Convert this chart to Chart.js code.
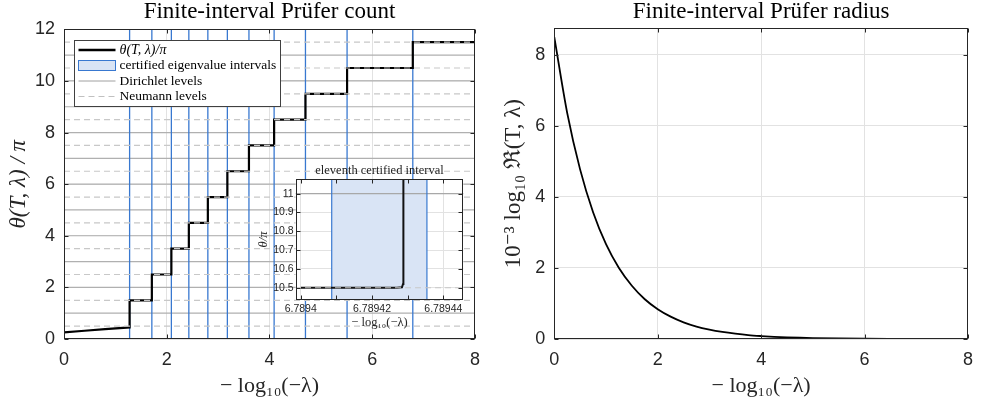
<!DOCTYPE html>
<html>
<head>
<meta charset="utf-8">
<script src="https://cdn.jsdelivr.net/npm/chart.js@4.4.1/dist/chart.umd.min.js"></script>
<style>
  html, body { margin: 0; padding: 0; background: #fff; }
  #wrap { position: relative; width: 983px; height: 404px; overflow: hidden; }
  canvas { position: absolute; }
  #countChart { left: 0; top: 0; }
  #insetChart { left: 240px; top: 158px; }
  #radiusChart { left: 490px; top: 0; }
</style>
</head>
<body>
<div id="wrap">
  <canvas id="countChart" width="490" height="404"></canvas>
  <canvas id="insetChart" width="235" height="180"></canvas>
  <canvas id="radiusChart" width="493" height="404"></canvas>
</div>
<script>
// ---- data ----
var xTicks = [0, 2, 4, 6, 8];
var countYTicks = [0, 2, 4, 6, 8, 10, 12];
var radiusYTicks = [0, 2, 4, 6, 8];

// left panel: Prufer count
var startX = [0, 0.4, 0.8, 1.277];
var startY = [0.26, 0.32, 0.38, 0.45];
var eigenX = [1.277, 1.71, 2.09, 2.43, 2.80, 3.18, 3.60, 4.09, 4.70, 5.51, 6.7894];
var stepLevels = [1.5, 2.5, 3.5, 4.5, 5.5, 6.5, 7.5, 8.5, 9.5, 10.5, 11.5];
var dirichletLevels = [1, 2, 3, 4, 5, 6, 7, 8, 9, 10, 11];
var neumannLevels = [0.5, 1.5, 2.5, 3.5, 4.5, 5.5, 6.5, 7.5, 8.5, 9.5, 10.5, 11.5];

// inset: eleventh certified interval
var insetXTicks = [6.7894, 6.78941, 6.78942, 6.78943, 6.78944];
var insetXLabels = ['6.7894', '', '6.78942', '', '6.78944'];
var insetYTicks = [10.5, 10.6, 10.7, 10.8, 10.9, 11];
var insetYLabels = ['10.5', '10.6', '10.7', '10.8', '10.9', '11'];
var insetInterval = [6.7894087, 6.7894354];
var insetCurveX = [6.7894, 6.789427, 6.7894284, 6.7894287, 6.7894288, 6.7894288];
var insetCurveY = [10.5, 10.5, 10.503, 10.52, 10.7, 11.2];

// right panel: Prufer radius
var radiusX = [0, 0.25, 0.5, 0.75, 1, 1.25, 1.5, 1.75, 2, 2.25, 2.5, 2.75, 3, 3.25, 3.5, 3.75, 4, 4.25, 4.5, 4.75, 5, 5.5, 6, 6.5, 7, 7.5, 8];
var radiusY = [8.5, 6.36, 4.77, 3.57, 2.67, 2.0, 1.5, 1.12, 0.84, 0.63, 0.47, 0.35, 0.265, 0.2, 0.15, 0.11, 0.083, 0.062, 0.047, 0.035, 0.026, 0.015, 0.008, 0.005, 0.003, 0.002, 0.001];

// ---- styles ----
var SERIF = "'Liberation Serif', 'DejaVu Serif', serif";
var SANS = "'Liberation Sans', Arial, sans-serif";
var AXIS = '#262626';
var GRID = '#e2e2e2';
var BLUE = '#3878d0';
var SHADE = '#d9e4f5';
var DIRICHLET = '#b0b0b0';
var NEUMANN = '#c8c8c8';

function hLines(levels, x0, x1) {
  var pts = [];
  levels.forEach(function (v) {
    pts.push({x: x0, y: v}, {x: x1, y: v}, {x: x1, y: null});
  });
  return pts;
}
function vLines(xs, y0, y1) {
  var pts = [];
  xs.forEach(function (x) {
    pts.push({x: x, y: y0}, {x: x, y: y1}, {x: x, y: null});
  });
  return pts;
}
function fixedTicks(list) {
  return function (scale) {
    scale.ticks = list.map(function (v) { return {value: v}; });
  };
}

// box round the axes plus MATLAB style inward ticks
var framePlugin = {
  id: 'frame',
  afterDraw: function (chart, args, opts) {
    var a = chart.chartArea, ctx = chart.ctx;
    var len = opts.tickLen || 4;
    var l = Math.round(a.left) + 0.5, r = Math.round(a.right) - 0.5;
    var t = Math.round(a.top) + 0.5, b = Math.round(a.bottom) - 0.5;
    ctx.save();
    ctx.strokeStyle = AXIS;
    ctx.lineWidth = 1;
    ctx.beginPath();
    chart.scales.x.ticks.forEach(function (tk) {
      var px = Math.round(chart.scales.x.getPixelForValue(tk.value)) + 0.5;
      ctx.moveTo(px, b); ctx.lineTo(px, b - len);
      ctx.moveTo(px, t); ctx.lineTo(px, t + len);
    });
    chart.scales.y.ticks.forEach(function (tk) {
      var py = Math.round(chart.scales.y.getPixelForValue(tk.value)) + 0.5;
      ctx.moveTo(l, py); ctx.lineTo(l + len, py);
      ctx.moveTo(r, py); ctx.lineTo(r - len, py);
    });
    ctx.stroke();
    ctx.strokeRect(l, t, r - l, b - t);
    ctx.restore();
  }
};

// white axes background for the inset
var paperPlugin = {
  id: 'paper',
  beforeDraw: function (chart) {
    var a = chart.chartArea, ctx = chart.ctx;
    ctx.save();
    ctx.fillStyle = '#fff';
    ctx.fillRect(a.left, a.top, a.right - a.left, a.bottom - a.top);
    ctx.restore();
  }
};

// boxed legend in the upper left of the count panel
var legendPlugin = {
  id: 'boxLegend',
  afterDraw: function (chart) {
    var ctx = chart.ctx;
    var a = chart.chartArea;
    var bx = Math.round(a.left) + 10.5, by = Math.round(a.top) + 11.5, bw = 206, bh = 66;
    var rows = [by + 9.5, by + 25, by + 40.5, by + 56];
    var lx0 = bx + 4, lx1 = bx + 41, tx = bx + 45;
    ctx.save();
    ctx.fillStyle = '#fff';
    ctx.fillRect(bx, by, bw, bh);
    ctx.strokeStyle = '#404040';
    ctx.lineWidth = 1;
    ctx.strokeRect(bx, by, bw, bh);

    ctx.lineWidth = 2.5; ctx.strokeStyle = '#000';
    ctx.beginPath(); ctx.moveTo(lx0, rows[0]); ctx.lineTo(lx1, rows[0]); ctx.stroke();

    ctx.fillStyle = SHADE; ctx.strokeStyle = BLUE; ctx.lineWidth = 1;
    ctx.fillRect(lx0, rows[1] - 5, lx1 - lx0, 10);
    ctx.strokeRect(lx0, rows[1] - 5, lx1 - lx0, 10);

    ctx.strokeStyle = '#a0a0a0';
    ctx.beginPath(); ctx.moveTo(lx0, rows[2]); ctx.lineTo(lx1, rows[2]); ctx.stroke();

    ctx.strokeStyle = '#c0c0c0'; ctx.setLineDash([6, 4]);
    ctx.beginPath(); ctx.moveTo(lx0, rows[3]); ctx.lineTo(lx1, rows[3]); ctx.stroke();
    ctx.setLineDash([]);

    ctx.fillStyle = '#000';
    ctx.textBaseline = 'middle';
    ctx.textAlign = 'left';
    ctx.font = 'italic 14px ' + SERIF;
    ctx.fillText('θ(T, λ)/π', tx, rows[0]);
    ctx.font = '13.5px ' + SERIF;
    ctx.fillText('certified eigenvalue intervals', tx, rows[1]);
    ctx.fillText('Dirichlet levels', tx, rows[2]);
    ctx.fillText('Neumann levels', tx, rows[3]);
    ctx.restore();
  }
};

Chart.defaults.animation = false;
Chart.defaults.devicePixelRatio = 1;
Chart.defaults.elements.point.radius = 0;
Chart.defaults.elements.line.tension = 0;
Chart.defaults.plugins.legend.display = false;
Chart.defaults.plugins.tooltip.enabled = false;

var titleFont = {family: SERIF, size: 23, weight: 'normal', lineHeight: 1};
var tickFont = {family: SANS, size: 18};
var xTitleFont = {family: SERIF, size: 22};

// ---- left panel ----
var stepPts = [];
startX.forEach(function (x, i) { stepPts.push({x: x, y: startY[i]}); });
eigenX.forEach(function (x, i) {
  var next = i + 1 < eigenX.length ? eigenX[i + 1] : 8;
  stepPts.push({x: x, y: stepLevels[i]}, {x: next, y: stepLevels[i]});
});

new Chart(document.getElementById('countChart'), {
  type: 'line',
  data: {
    datasets: [
      {label: 'θ(T,λ)/π', data: stepPts, borderColor: '#000', borderWidth: 2.2, order: 2},
      {label: 'certified eigenvalue intervals', data: vLines(eigenX, 0, 12), borderColor: BLUE, borderWidth: 1.3, order: 3},
      {label: 'Dirichlet levels', data: hLines(dirichletLevels, 0, 8), borderColor: DIRICHLET, borderWidth: 1.2, order: 4},
      {label: 'Neumann levels', data: hLines(neumannLevels, 0, 8), borderColor: NEUMANN, borderWidth: 1.2, borderDash: [6, 4], order: 1}
    ]
  },
  options: {
    responsive: false,
    layout: {padding: {left: 0, right: 8, top: 0, bottom: 0}},
    plugins: {
      title: {display: true, fullSize: false, text: 'Finite-interval Prüfer count', color: '#000',
        font: titleFont, padding: {top: 0, bottom: 6.3}}
    },
    scales: {
      x: {
        type: 'linear', min: 0, max: 8,
        afterBuildTicks: fixedTicks(xTicks),
        afterFit: function (s) { s.height = 65; },
        ticks: {color: AXIS, font: tickFont, padding: 10, maxRotation: 0},
        grid: {color: GRID, drawTicks: false},
        border: {display: false},
        title: {display: true, text: '− log₁₀(−λ)', color: AXIS, font: xTitleFont, padding: {top: 0, bottom: 5}}
      },
      y: {
        type: 'linear', min: 0, max: 12,
        afterBuildTicks: fixedTicks(countYTicks),
        afterFit: function (s) { s.width = 64; },
        ticks: {color: AXIS, font: tickFont, padding: 9},
        grid: {color: GRID, drawTicks: false},
        border: {display: false},
        title: {display: true, text: 'θ(T, λ) / π', color: AXIS, font: {family: SERIF, size: 23, style: 'italic'}, padding: {top: 5, bottom: 0}}
      }
    }
  },
  plugins: [framePlugin, legendPlugin]
});

// ---- inset ----
new Chart(document.getElementById('insetChart'), {
  type: 'line',
  data: {
    datasets: [
      {label: 'curve', data: insetCurveX.map(function (x, i) { return {x: x, y: insetCurveY[i]}; }), borderColor: '#111', borderWidth: 2, order: 2},
      {label: 'edges', data: vLines(insetInterval, 10, 12), borderColor: BLUE, borderWidth: 1.2, order: 3},
      {label: 'shade', data: insetInterval.map(function (x) { return {x: x, y: 12}; }), borderWidth: 0, backgroundColor: SHADE, fill: 'start', order: 6},
      {label: 'Dirichlet', data: hLines([11], 6.78939, 6.78945), borderColor: '#a8a8a8', borderWidth: 1.2, order: 4},
      {label: 'Neumann', data: hLines([10.5], 6.78939, 6.78945), borderColor: NEUMANN, borderWidth: 1.2, borderDash: [6, 4], order: 1}
    ]
  },
  options: {
    responsive: false,
    layout: {padding: {left: 0, right: 11.7, top: 0, bottom: 0}},
    plugins: {
      title: {display: true, fullSize: false, text: 'eleventh certified interval', color: '#222',
        font: {family: SERIF, size: 12.5, weight: 'normal', lineHeight: 1}, padding: {top: 6, bottom: 2.5}}
    },
    scales: {
      x: {
        type: 'linear', min: 6.7893986, max: 6.7894456,
        afterBuildTicks: fixedTicks(insetXTicks),
        afterFit: function (s) { s.height = 38; },
        ticks: {color: AXIS, font: {family: SANS, size: 10.5}, padding: 3, maxRotation: 0, autoSkip: false,
          callback: function (v, i) { return insetXLabels[i]; }},
        grid: {color: GRID, drawTicks: false},
        border: {display: false},
        title: {display: true, text: '− log₁₀(−λ)', color: AXIS, font: {family: SERIF, size: 12.5}, padding: {top: 0, bottom: 8}}
      },
      y: {
        type: 'linear', min: 10.435, max: 11.078,
        afterBuildTicks: fixedTicks(insetYTicks),
        afterFit: function (s) { s.width = 55.7; },
        ticks: {color: AXIS, font: {family: SANS, size: 10.5}, padding: 2, autoSkip: false,
          callback: function (v, i) { return insetYLabels[i]; }},
        grid: {color: GRID, drawTicks: false},
        border: {display: false},
        title: {display: true, text: 'θ/π', color: AXIS, font: {family: SERIF, size: 12.5, style: 'italic'}, padding: {top: 16, bottom: 0}}
      }
    }
  },
  plugins: [paperPlugin, framePlugin]
});

// ---- right panel ----
new Chart(document.getElementById('radiusChart'), {
  type: 'line',
  data: {
    datasets: [
      {label: 'radius', data: radiusX.map(function (x, i) { return {x: x, y: radiusY[i]}; }),
        borderColor: '#000', borderWidth: 1.8, cubicInterpolationMode: 'monotone'}
    ]
  },
  options: {
    responsive: false,
    layout: {padding: {left: 0, right: 8, top: 0, bottom: 0}},
    plugins: {
      title: {display: true, fullSize: false, text: 'Finite-interval Prüfer radius', color: '#000',
        font: titleFont, padding: {top: 0, bottom: 5.3}}
    },
    scales: {
      x: {
        type: 'linear', min: 0, max: 8,
        afterBuildTicks: fixedTicks(xTicks),
        afterFit: function (s) { s.height = 65; },
        ticks: {color: AXIS, font: tickFont, padding: 10, maxRotation: 0},
        grid: {color: GRID, drawTicks: false},
        border: {display: false},
        title: {display: true, text: '− log₁₀(−λ)', color: AXIS, font: xTitleFont, padding: {top: 0, bottom: 5}}
      },
      y: {
        type: 'linear', min: 0, max: 8.75,
        afterBuildTicks: fixedTicks(radiusYTicks),
        afterFit: function (s) { s.width = 64.3; },
        ticks: {color: AXIS, font: tickFont, padding: 9},
        grid: {color: GRID, drawTicks: false},
        border: {display: false},
        title: {display: true, text: '10⁻³ log₁₀ ℜ(T, λ)', color: AXIS,
          font: {family: SERIF, size: 23}, padding: {top: 10, bottom: 0}}
      }
    }
  },
  plugins: [framePlugin]
});
</script>
</body>
</html>
